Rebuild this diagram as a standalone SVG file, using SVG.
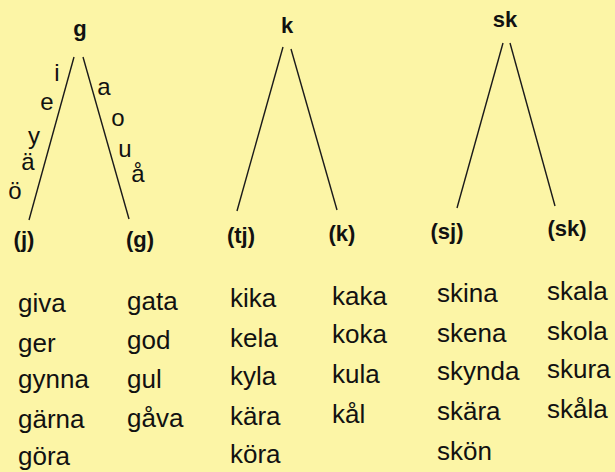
<svg xmlns="http://www.w3.org/2000/svg" width="615" height="472" viewBox="0 0 615 472">
<style>
.bg{fill:#fcf5a6}
.ln{stroke:#1a1a1a;stroke-width:1.4;fill:none}
.h{font-family:"Liberation Sans",Arial,sans-serif;font-weight:bold;font-size:22px;fill:#111;text-anchor:middle}
.v{font-family:"Liberation Sans",Arial,sans-serif;font-size:24px;fill:#111;text-anchor:middle}
.w{font-family:"Liberation Sans",Arial,sans-serif;font-size:26px;fill:#111}
</style>
<rect class="bg" x="0" y="0" width="615" height="472"/>
<g id="connectors">
<line class="ln" x1="74" y1="57" x2="29" y2="220"/>
<line class="ln" x1="83" y1="57" x2="129" y2="219"/>
<line class="ln" x1="283" y1="47" x2="237" y2="211"/>
<line class="ln" x1="291" y1="49" x2="337" y2="210"/>
<line class="ln" x1="503" y1="43" x2="457" y2="208"/>
<line class="ln" x1="510" y1="43" x2="555" y2="206"/>
</g>
<g id="node-g"><text class="h" x="80" y="36">g</text></g>
<g id="node-k"><text class="h" x="287" y="33">k</text></g>
<g id="node-sk"><text class="h" x="505" y="27">sk</text></g>
<g id="node-j"><text class="h" x="24" y="247">(j)</text></g>
<g id="node-g2"><text class="h" x="140" y="247">(g)</text></g>
<g id="node-tj"><text class="h" x="241" y="243">(tj)</text></g>
<g id="node-k2"><text class="h" x="342" y="241">(k)</text></g>
<g id="node-sj"><text class="h" x="447" y="239">(sj)</text></g>
<g id="node-sk2"><text class="h" x="567" y="236">(sk)</text></g>
<g id="vowels-front">
<text class="v" x="57" y="81">i</text>
<text class="v" x="47" y="110">e</text>
<text class="v" x="34" y="144">y</text>
<text class="v" x="28" y="170">ä</text>
<text class="v" x="15" y="199">ö</text>
</g>
<g id="vowels-back">
<text class="v" x="104" y="95">a</text>
<text class="v" x="118" y="126">o</text>
<text class="v" x="125" y="157">u</text>
<text class="v" x="138" y="182">å</text>
</g>
<g id="words-g-front">
<text class="w" x="18" y="312">giva</text>
<text class="w" x="18" y="352">ger</text>
<text class="w" x="18" y="388">gynna</text>
<text class="w" x="18" y="428">gärna</text>
<text class="w" x="18" y="465">göra</text>
</g>
<g id="words-g-back">
<text class="w" x="127" y="310">gata</text>
<text class="w" x="127" y="349">god</text>
<text class="w" x="127" y="388">gul</text>
<text class="w" x="127" y="427">gåva</text>
</g>
<g id="words-k-front">
<text class="w" x="230" y="307">kika</text>
<text class="w" x="230" y="347">kela</text>
<text class="w" x="230" y="385">kyla</text>
<text class="w" x="230" y="425">kära</text>
<text class="w" x="230" y="463">köra</text>
</g>
<g id="words-k-back">
<text class="w" x="332" y="305">kaka</text>
<text class="w" x="332" y="343">koka</text>
<text class="w" x="332" y="383">kula</text>
<text class="w" x="332" y="423">kål</text>
</g>
<g id="words-sk-front">
<text class="w" x="437" y="302">skina</text>
<text class="w" x="437" y="342">skena</text>
<text class="w" x="437" y="380">skynda</text>
<text class="w" x="437" y="420">skära</text>
<text class="w" x="437" y="460">skön</text>
</g>
<g id="words-sk-back">
<text class="w" x="547" y="300">skala</text>
<text class="w" x="547" y="340">skola</text>
<text class="w" x="547" y="378">skura</text>
<text class="w" x="547" y="418">skåla</text>
</g>
</svg>
